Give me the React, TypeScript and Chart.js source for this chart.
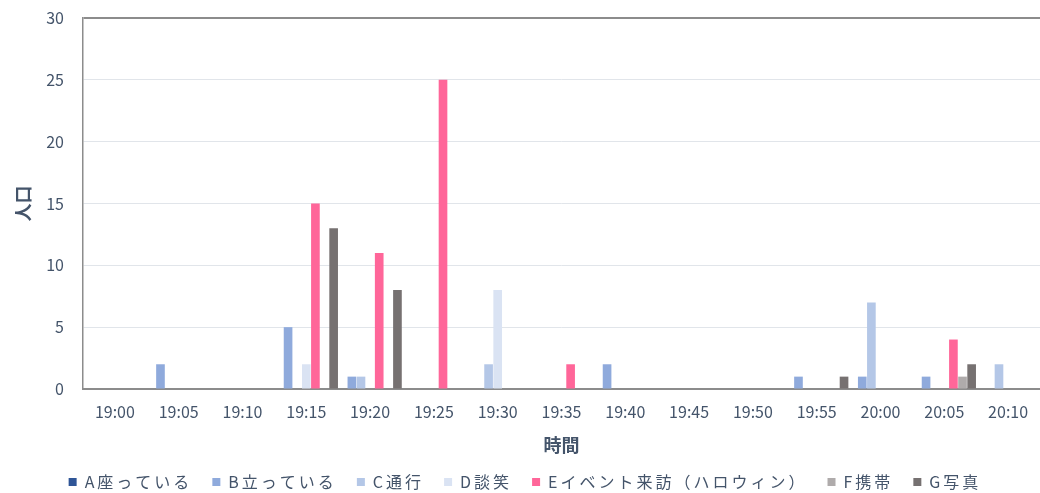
import React, { useEffect, useRef } from "react";
import { Chart, registerables } from "chart.js";

Chart.register(...registerables);

const timeLabels = ["19:00", "19:05", "19:10", "19:15", "19:20", "19:25", "19:30", "19:35", "19:40", "19:45", "19:50", "19:55", "20:00", "20:05", "20:10"];

const seriesNames = ["A座っている", "B立っている", "C通行", "D談笑", "Eイベント来訪（ハロウィン）", "F携帯", "G写真"];

const aSitting = [0, 0, 0, 0, 0, 0, 0, 0, 0, 0, 0, 0, 0, 0, 0];
const bStanding = [0, 2, 0, 5, 1, 0, 0, 0, 2, 0, 0, 1, 1, 1, 0];
const cPassing = [0, 0, 0, 0, 1, 0, 2, 0, 0, 0, 0, 0, 7, 0, 2];
const dChatting = [0, 0, 0, 2, 0, 0, 8, 0, 0, 0, 0, 0, 0, 0, 0];
const eEvent = [0, 0, 0, 15, 11, 25, 0, 2, 0, 0, 0, 0, 0, 4, 0];
const fPhone = [0, 0, 0, 0, 0, 0, 0, 0, 0, 0, 0, 0, 0, 1, 0];
const gPhoto = [0, 0, 0, 13, 8, 0, 0, 0, 0, 0, 0, 1, 0, 2, 0];

const yTicks = [0, 5, 10, 15, 20, 25, 30];

const seriesColors = ["#2F5597", "#8FAADC", "#B4C7E7", "#DAE3F3", "#FF6699", "#AFABAB", "#767171"];

const FONT = "'Noto Sans CJK JP', 'Noto Sans', sans-serif";
const TEXT = "#44546A";

const legendSpacing = {
  id: "legendSpacing",
  afterInit(chart: any) {
    const legend = chart.legend;
    if (!legend || legend.__patched) return;
    legend.__patched = true;
    const wrap = (name: string, shift: number) => {
      const orig = legend[name];
      legend[name] = function (...args: any[]) {
        const ctx = this.ctx;
        const prev = ctx.letterSpacing;
        ctx.save();
        ctx.letterSpacing = "3px";
        if (shift) ctx.translate(shift, 0);
        try {
          return orig.apply(this, args);
        } finally {
          ctx.restore();
          ctx.letterSpacing = prev;
        }
      };
    };
    wrap("fit", 0);
    wrap("draw", 5);
  },
};

export default function App() {
  const ref = useRef<HTMLCanvasElement | null>(null);

  useEffect(() => {
    if (!ref.current) return;
    const values = [aSitting, bStanding, cPassing, dChatting, eEvent, fPhone, gPhoto];
    const chart = new Chart(ref.current, {
      type: "bar",
      data: {
        labels: timeLabels,
        datasets: seriesNames.map((name, i) => ({
          label: name,
          data: values[i],
          backgroundColor: seriesColors[i],
          borderWidth: 0,
          categoryPercentage: 1,
          barPercentage: 0.95,
        })),
      },
      options: {
        responsive: false,
        animation: false,
        layout: { padding: { top: 18, right: 0, left: 0, bottom: 0 } },
        plugins: {
          tooltip: { enabled: false },
          legend: {
            position: "bottom",
            labels: {
              boxWidth: 8,
              boxHeight: 8,
              padding: 20,
              color: TEXT,
              font: { family: FONT, size: 16 },
            },
          },
        },
        scales: {
          x: {
            grid: { display: false, drawTicks: false },
            border: { display: true, color: "#8C8C8C", width: 2 },
            ticks: { color: TEXT, font: { family: FONT, size: 16 }, padding: 13, maxRotation: 0, autoSkip: false },
            title: {
              display: true,
              text: "時間",
              color: TEXT,
              font: { family: FONT, size: 18, weight: "bold", lineHeight: 1 },
              padding: { top: 0, bottom: 0 },
            },
            afterFit: (s: any) => {
              s.height = 65;
              s.paddingLeft = 0;
              s.paddingRight = 0;
            },
          },
          y: {
            min: 0,
            max: 30,
            afterBuildTicks: (s: any) => {
              s.ticks = yTicks.map((v) => ({ value: v }));
            },
            grid: {
              drawTicks: false,
              color: (c: any) => (c.tick && c.tick.value === 30 ? "#8C8C8C" : "#E1E5EA"),
              lineWidth: (c: any) => (c.tick && c.tick.value === 30 ? 2 : 1),
            },
            border: { display: true, color: "#8C8C8C", width: 1.5 },
            ticks: { color: TEXT, font: { family: FONT, size: 16 }, padding: 19 },
            title: {
              display: true,
              text: "人口",
              color: TEXT,
              font: { family: FONT, size: 18, weight: "bold", lineHeight: 1 },
              padding: { top: 14, bottom: 0 },
            },
            afterFit: (s: any) => {
              s.width = 83;
              s.paddingTop = 0;
              s.paddingBottom = 0;
            },
          },
        },
      },
      plugins: [legendSpacing],
    } as any);
    return () => chart.destroy();
  }, []);

  return (
    <div style={{ position: "fixed", left: 0, top: 0, width: 1040, height: 500, background: "#fff" }}>
      <canvas ref={ref} width={1040} height={500} style={{ display: "block" }} />
    </div>
  );
}
